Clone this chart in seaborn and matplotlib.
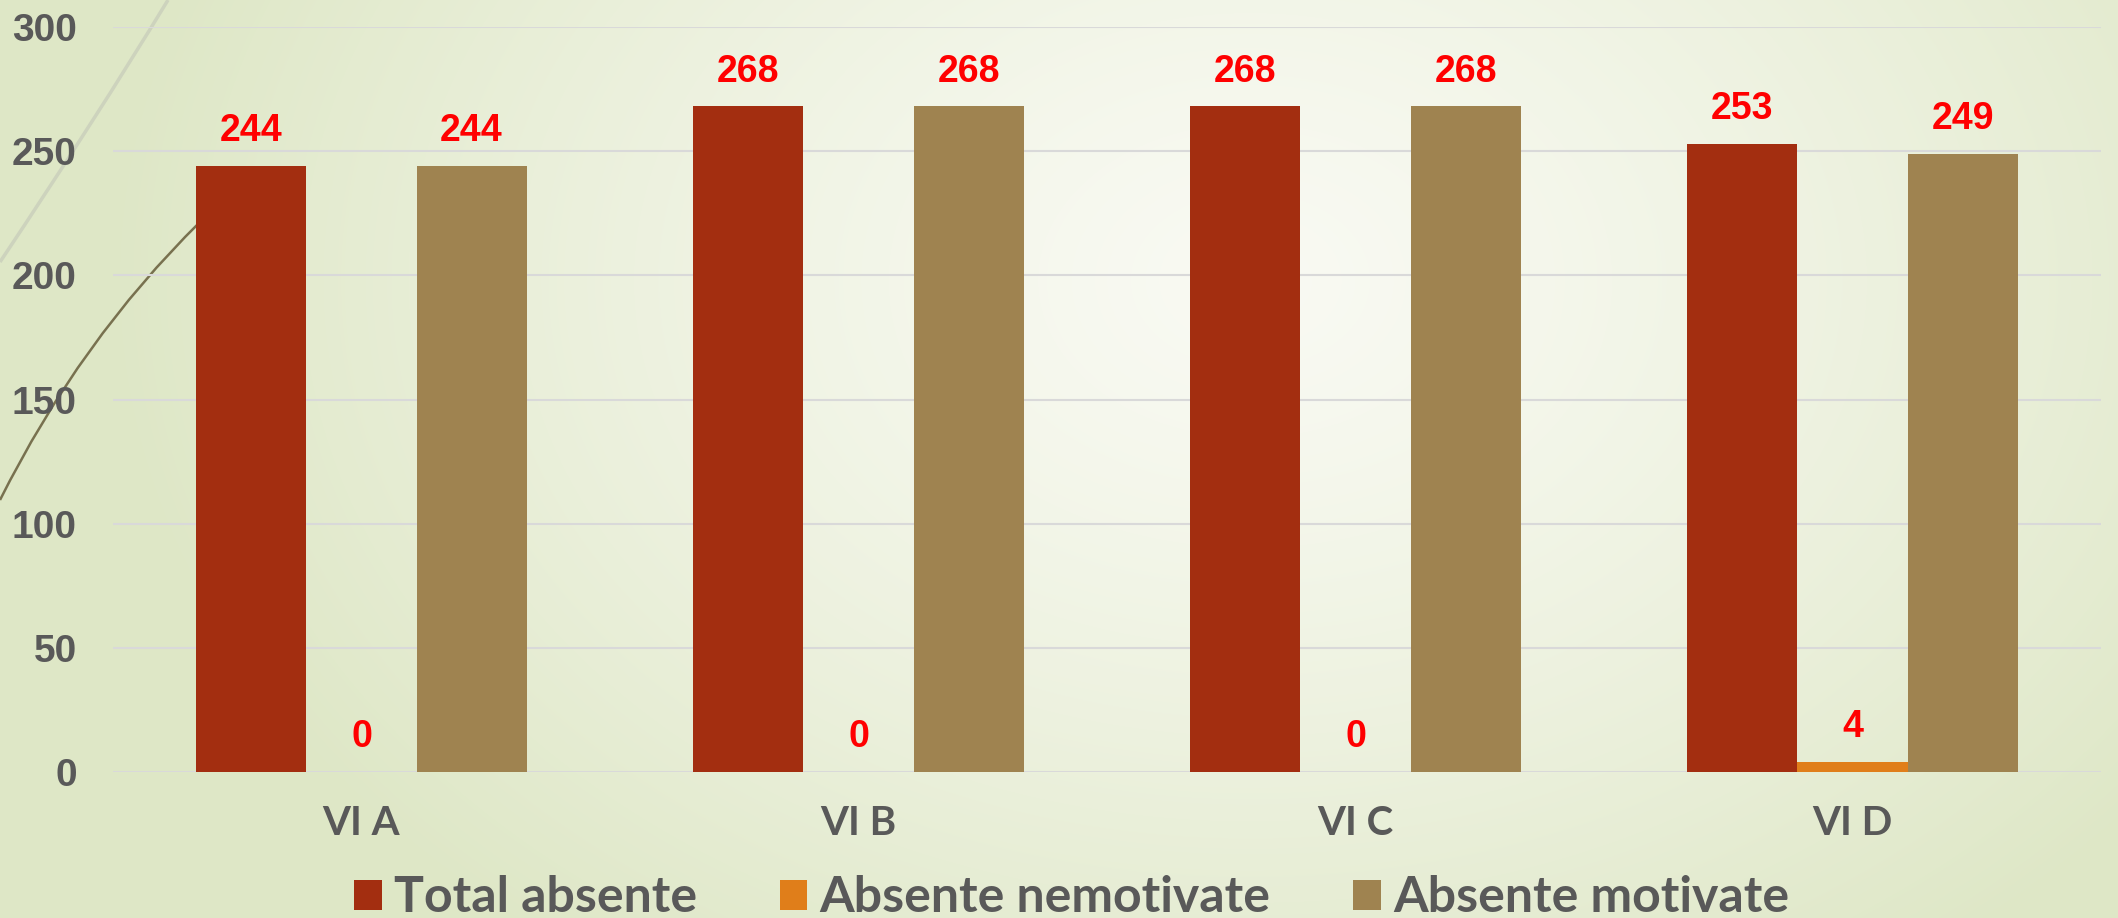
import numpy as np
import pandas as pd
import matplotlib.pyplot as plt
import seaborn as sns
from matplotlib.path import Path
from matplotlib.patches import PathPatch, Patch

clase = ["VI A", "VI B", "VI C", "VI D"]
total_absente = [244, 268, 268, 253]
absente_nemotivate = [0, 0, 0, 4]
absente_motivate = [244, 268, 268, 249]
serii = ["Total absente", "Absente nemotivate", "Absente motivate"]
culori = ["#A32E10", "#E07E1A", "#9F8350"]

df = pd.DataFrame({
    "Clasa": clase * 3,
    "Serie": [s for s in serii for _ in clase],
    "Valoare": total_absente + absente_nemotivate + absente_motivate,
})

W, H = 2118, 918
fig = plt.figure(figsize=(W / 100, H / 100), dpi=100)

# fundal cu gradient + curbele decorative din slide
bg = fig.add_axes([0, 0, 1, 1], zorder=0)
yy, xx = np.mgrid[0:H, 0:W]
t = np.sqrt(((xx - 1250) / 1150) ** 2 + ((yy - 280) / 850) ** 2)
t = np.clip(t, 0, 1) ** 1.3
c0 = np.array([249, 250, 243]) / 255
c1 = np.array([222, 231, 198]) / 255
img = c0 * (1 - t[..., None]) + c1 * t[..., None]
bg.imshow(img, extent=[0, W, H, 0], aspect="auto")
bg.set_xlim(0, W)
bg.set_ylim(H, 0)
bg.axis("off")

arc1 = Path([(168, 0), (95, 120), (0, 262)], [Path.MOVETO, Path.CURVE3, Path.CURVE3])
bg.add_patch(PathPatch(arc1, facecolor="none", edgecolor="#CDD3BD", lw=2.5))
arc2 = Path([(200, 222), (80, 340), (0, 500)], [Path.MOVETO, Path.CURVE3, Path.CURVE3])
bg.add_patch(PathPatch(arc2, facecolor="none", edgecolor="#78714F", lw=1.8))

ax = fig.add_axes([113 / W, 1 - 772 / H, (2101 - 113) / W, (772 - 27) / H], zorder=1)
ax.patch.set_alpha(0)

sns.barplot(data=df, x="Clasa", y="Valoare", hue="Serie", palette=culori,
            width=0.664, gap=0, ax=ax, legend=False, saturation=1,
            edgecolor="none")

for cont in ax.containers:
    ax.bar_label(cont, padding=12, color="#FF0000", fontsize=27,
                 fontweight="bold", fontfamily="Liberation Sans")

ax.set_ylim(0, 300)
ax.set_yticks(range(0, 301, 50))
ax.grid(axis="y", color="#D9D9D9", lw=1.5)
ax.set_axisbelow(True)
for s in ax.spines.values():
    s.set_visible(False)
ax.tick_params(axis="both", length=0)
ax.tick_params(axis="y", pad=26, labelsize=28, labelcolor="#595959")
ax.tick_params(axis="x", pad=24, labelsize=29, labelcolor="#595959")
for lab in ax.get_yticklabels():
    lab.set_fontweight("bold")
    lab.set_fontfamily("Liberation Sans")
for lab in ax.get_xticklabels():
    lab.set_fontweight("bold")
    lab.set_fontfamily("Lato")
ax.set_xlabel("")
ax.set_ylabel("")

handles = [Patch(facecolor=c, edgecolor="none") for c in culori]
fig.legend(handles, serii, loc="center", bbox_to_anchor=(0.506, 0.022),
           ncol=3, frameon=False, prop={"family": "Lato", "weight": "bold", "size": 36},
           labelcolor="#595959", handlelength=0.55, handleheight=0.55,
           handletextpad=0.25, columnspacing=1.65)

fig.savefig("out.png", dpi=100)
